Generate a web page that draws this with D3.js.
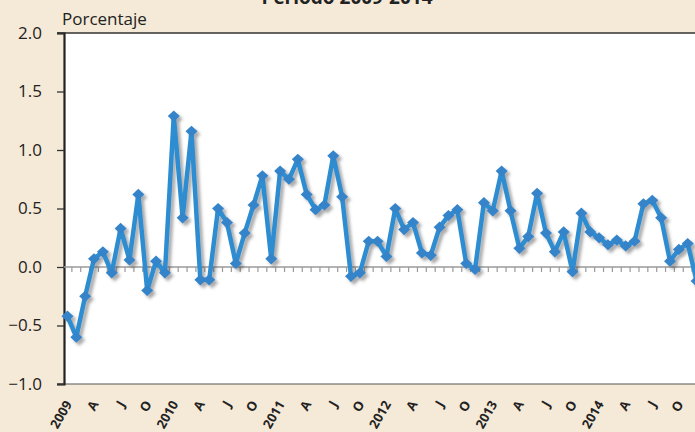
<!DOCTYPE html>
<html><head><meta charset="utf-8">
<script src="https://cdn.jsdelivr.net/npm/d3@7"></script>
<style>
html,body{margin:0;padding:0;background:#f5e9d7;}
svg{display:block;}
</style></head>
<body>
<svg id="chart" width="695" height="432"></svg>
<script>
const title = "Periodo 2009-2014";
const yTitle = "Porcentaje";
const years = [2009, 2010, 2011, 2012, 2013, 2014];
const monthLetters = ["E","F","M","A","M","J","J","A","S","O","N","D"];
const values = [
  -0.42, -0.60, -0.25, 0.07, 0.13, -0.05, 0.33, 0.06, 0.62, -0.20, 0.05, -0.05,
   1.29,  0.42,  1.16, -0.11, -0.11, 0.50, 0.38, 0.03, 0.29, 0.53, 0.78, 0.07,
   0.82,  0.75,  0.92,  0.62,  0.49, 0.53, 0.95, 0.60, -0.08, -0.05, 0.22, 0.22,
   0.09,  0.50,  0.32,  0.38,  0.12, 0.10, 0.34, 0.44, 0.49, 0.03, -0.02, 0.55,
   0.48,  0.82,  0.48,  0.16,  0.26, 0.63, 0.29, 0.13, 0.30, -0.04, 0.46, 0.30,
   0.25,  0.19,  0.23,  0.18,  0.22, 0.54, 0.57, 0.42, 0.05, 0.15, 0.20, -0.12
];
const yTicks = [-1.0, -0.5, 0.0, 0.5, 1.0, 1.5, 2.0];

const months = [];
years.forEach(y => { for (let m = 0; m < 12; m++) months.push({year: y, m}); });
const data = months.map((d, i) => ({...d, i, v: values[i]}));

const svg = d3.select("#chart");
const W = 695, H = 432;
const plot = {left: 64, top: 33, bottom: 384};

const x = d3.scaleBand().domain(d3.range(values.length)).range([63, 701]).padding(0);
const cx = i => x(i) + x.bandwidth() / 2;
const y = d3.scaleLinear().domain([-1, 2]).range([plot.bottom, plot.top]);

const defs = svg.append("defs");
const f = defs.append("filter").attr("id", "shadow").attr("x", "-10%").attr("y", "-10%").attr("width", "120%").attr("height", "130%");
f.append("feDropShadow").attr("dx", 3).attr("dy", 3).attr("stdDeviation", 1.8)
  .attr("flood-color", "#444").attr("flood-opacity", 0.45);

svg.append("rect").attr("x", plot.left).attr("y", plot.top)
  .attr("width", W - plot.left).attr("height", plot.bottom - plot.top).attr("fill", "#ffffff");

svg.append("text").attr("x", 347).attr("y", 4).attr("text-anchor", "middle")
  .attr("font-family", "'Open Sans', sans-serif").attr("font-weight", "bold")
  .attr("font-size", 19).attr("fill", "#222").text(title);

svg.append("text").attr("x", 62).attr("y", 25)
  .attr("font-family", "'Open Sans', sans-serif").attr("font-size", 17)
  .attr("fill", "#222").text(yTitle);

svg.append("line").attr("x1", 57).attr("x2", W).attr("y1", plot.top).attr("y2", plot.top)
  .attr("stroke", "#333").attr("stroke-width", 1.5);
svg.append("line").attr("x1", 57).attr("x2", W).attr("y1", plot.bottom).attr("y2", plot.bottom)
  .attr("stroke", "#555").attr("stroke-width", 1.2);

const yAxis = d3.axisLeft(y).tickValues(yTicks).tickFormat(d3.format(".1f")).tickSize(7).tickPadding(15);
const gy = svg.append("g").attr("transform", `translate(${plot.left},0)`).call(yAxis);
gy.select(".domain").attr("stroke", "#222").attr("stroke-width", 2.2);
gy.selectAll(".tick line").attr("stroke", "#333").attr("stroke-width", 1.3);
gy.selectAll(".tick text").attr("font-family", "'Open Sans', sans-serif")
  .attr("font-size", 17).attr("fill", "#222");

const g0 = svg.append("g").attr("transform", `translate(0,${y(0)})`);
g0.append("line").attr("x1", plot.left).attr("x2", W).attr("y1", 0).attr("y2", 0)
  .attr("stroke", "#9a9a9a").attr("stroke-width", 1.5);
g0.selectAll("line.mt").data(d3.range(1, values.length)).join("line").attr("class", "mt")
  .attr("x1", d => x(d)).attr("x2", d => x(d)).attr("y1", 0).attr("y2", 5)
  .attr("stroke", "#9a9a9a").attr("stroke-width", 1.2);

const labelIdx = data.filter(d => d.m % 3 === 0);
svg.append("g").selectAll("text").data(labelIdx).join("text")
  .attr("transform", d => `translate(${cx(d.i) + 5},${plot.bottom + 20}) rotate(-60)`)
  .attr("text-anchor", "end")
  .attr("font-family", "'Open Sans', sans-serif").attr("font-weight", "bold")
  .attr("font-size", 13).attr("fill", "#222")
  .text(d => d.m === 0 ? d.year : monthLetters[d.m]);

const g = svg.append("g").attr("filter", "url(#shadow)");
const line = d3.line().x(d => cx(d.i)).y(d => y(d.v));
g.append("path").datum(data).attr("d", line).attr("fill", "none")
  .attr("stroke", "#2d8dd1").attr("stroke-width", 4.5).attr("stroke-linejoin", "round");
const sx = 6, sy = 5.6;
g.selectAll("path.mk").data(data).join("path").attr("class", "mk")
  .attr("d", `M0,${-sy}L${sx},0L0,${sy}L${-sx},0Z`)
  .attr("transform", d => `translate(${cx(d.i)},${y(d.v)})`)
  .attr("fill", "#3484ca");
</script>
</body></html>
